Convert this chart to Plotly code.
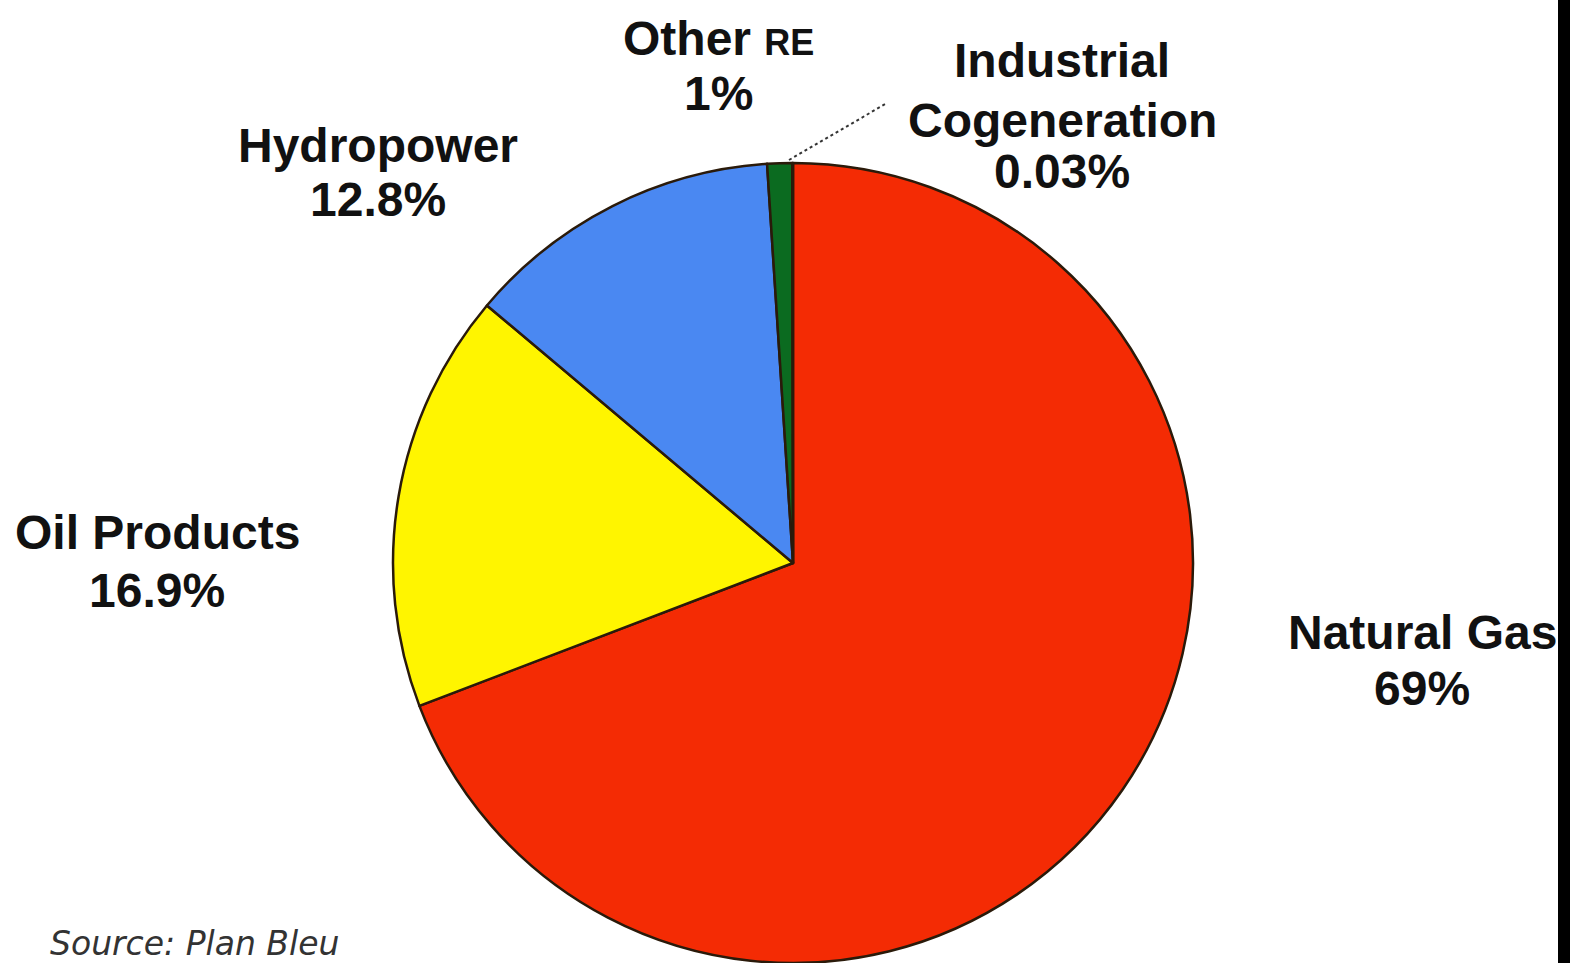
import plotly.graph_objects as go

# ---- data ----
labels = ["Natural Gas", "Oil Products", "Hydropower", "Other RE", "Industrial Cogeneration"]
values = [69, 16.9, 12.8, 1, 0.03]
value_text = ["69%", "16.9%", "12.8%", "1%", "0.03%"]
colors = ["#F42B04", "#FFF500", "#4A88F2", "#0B6B20", "#7030A0"]
source_text = "Source: Plan Bleu"

W, H = 1570, 963

fig = go.Figure()
fig.add_trace(go.Pie(
    labels=labels,
    values=values,
    sort=False,
    direction="clockwise",
    rotation=0,
    marker=dict(colors=colors, line=dict(color="#2a1a0a", width=2.5)),
    textinfo="none",
    hoverinfo="label+percent",
    showlegend=False,
    domain=dict(x=[(793 - 400) / W, (793 + 400) / W], y=[0, 800 / H]),
))

def px(x):
    return x / W

def py(y):
    return 1 - y / H

FONT = "Liberation Sans, Arial, sans-serif"
font = dict(family=FONT, size=48, color="#111111")

# label layout: (center x, [line center y's]) per category, in pixels
label_pos = {
    "Natural Gas": (1422, [632, 688]),
    "Oil Products": (157, [532, 590]),
    "Hydropower": (378, [146, 200]),
    "Other RE": (718, [38, 94]),
    "Industrial Cogeneration": (1062, [60, 120, 172]),
}

annotations = []
for lab, val in zip(labels, value_text):
    cx, ys = label_pos[lab]
    if lab == "Other RE":
        lines = ["<b>Other <span style='font-size:36px'>RE</span></b>", f"<b>{val}</b>"]
    elif lab == "Industrial Cogeneration":
        a, b = lab.split(" ")
        lines = [f"<b>{a}</b>", f"<b>{b}</b>", f"<b>{val}</b>"]
    else:
        lines = [f"<b>{lab}</b>", f"<b>{val}</b>"]
    for t, yy in zip(lines, ys):
        annotations.append(dict(
            x=px(cx), y=py(yy), xref="paper", yref="paper",
            text=t, showarrow=False, xanchor="center", yanchor="middle",
            font=font,
        ))

annotations.append(dict(
    x=px(48), y=py(943), xref="paper", yref="paper",
    text=f"<i>{source_text}</i>", showarrow=False, xanchor="left", yanchor="middle",
    font=dict(family="DejaVu Sans, sans-serif", size=33, color="#333333"),
))

shapes = [
    # leader line for Industrial Cogeneration
    dict(type="line", xref="paper", yref="paper",
         x0=px(789), y0=py(160), x1=px(887), y1=py(103),
         line=dict(color="#333333", width=2, dash="dot")),
    # black bar at the right edge
    dict(type="rect", xref="paper", yref="paper",
         x0=px(1558), x1=1.0, y0=0, y1=1,
         fillcolor="#000000", line=dict(width=0), layer="above"),
]

fig.update_layout(
    width=W, height=H,
    margin=dict(l=0, r=0, t=0, b=0),
    paper_bgcolor="white",
    plot_bgcolor="white",
    annotations=annotations,
    shapes=shapes,
)

fig.write_html(
    "out.html",
    config={"displayModeBar": False},
    post_script="document.body.style.margin='0px';document.body.style.overflow='hidden';",
)
